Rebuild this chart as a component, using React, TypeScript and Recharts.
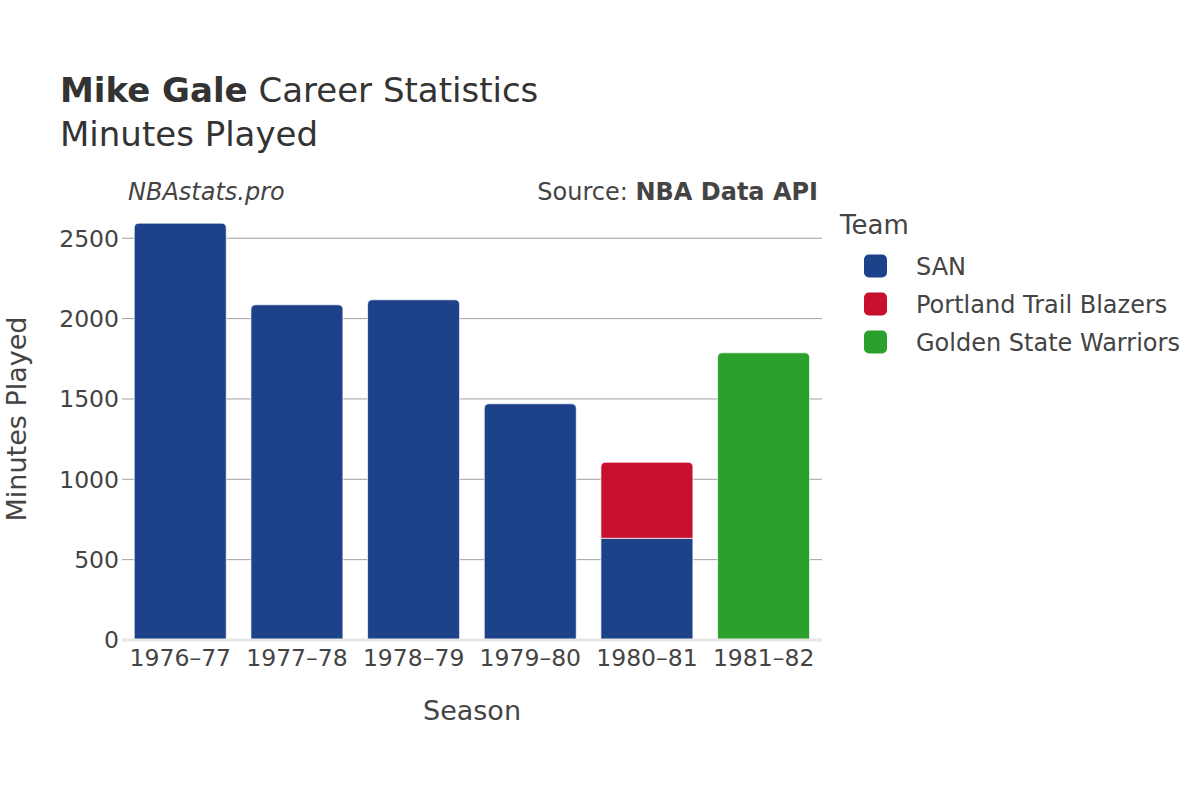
import { BarChart, Bar, XAxis, YAxis, CartesianGrid, ReferenceLine, Legend } from 'recharts';

const FONT = '"DejaVu Sans", Verdana, sans-serif';
const TEXT = '#444';

// values
const seasons = ['1976–77', '1977–78', '1978–79', '1979–80', '1980–81', '1981–82'];
const sanMinutes = [2594, 2086, 2117, 1470, 633, null];
const porMinutes = [null, null, null, null, 473, null];
const gswMinutes = [null, null, null, null, null, 1787];
const yTicks = [0, 500, 1000, 1500, 2000, 2500];
const gridValues = [500, 1000, 1500, 2000, 2500];

const teams = [
  { key: 'san', name: 'SAN', color: '#1d428a' },
  { key: 'por', name: 'Portland Trail Blazers', color: '#c8102e' },
  { key: 'gsw', name: 'Golden State Warriors', color: '#2ca02c' },
];

const rows = seasons.map((season, i) => {
  const row: any = { season, san: sanMinutes[i], por: porMinutes[i], gsw: gswMinutes[i] };
  // topmost segment gets the rounded corners
  row.top = [...teams].reverse().find(t => row[t.key] != null)?.key;
  return row;
});

function makeShape(key: string) {
  return (props: any) => {
    const { x, y, width, height, fill, payload } = props;
    if (!height || height <= 0) return null;
    const r = payload && payload.top === key ? Math.min(5, width / 2, height) : 0;
    const d = `M${x},${y + height} L${x},${y + r} Q${x},${y} ${x + r},${y} L${x + width - r},${y} Q${x + width},${y} ${x + width},${y + r} L${x + width},${y + height} Z`;
    return <path d={d} fill={fill} stroke="rgba(255,255,255,0.7)" strokeWidth={1} />;
  };
}

function TeamLegend({ payload }: any) {
  // keep the team order (recharts hands the stack back reversed)
  const byName: Record<string, string> = {};
  (payload || []).forEach((p: any) => { byName[p.value] = p.color; });
  return (
    <svg width={370} height={170} style={{ fontFamily: FONT }}>
      <text x={10} y={34} fontSize={26} fill={TEXT}>Team</text>
      {teams.map((t, i) => {
        const cy = 66 + i * 38;
        return (
          <g key={t.key}>
            <rect x={34} y={cy - 11.5} width={23} height={23} rx={5} fill={byName[t.name] || t.color} />
            <text x={86} y={cy + 8.5} fontSize={24} fill={TEXT}>{t.name}</text>
          </g>
        );
      })}
    </svg>
  );
}

export default function App() {
  return (
    <div style={{ position: 'absolute', left: 0, top: 0, width: 1200, height: 800, background: '#fff', fontFamily: FONT }}>
      <BarChart
        width={1200}
        height={800}
        data={rows}
        margin={{ top: 200, right: 378, bottom: 100, left: 0 }}
        barCategoryGap="10.5%"
      >
        <CartesianGrid horizontal vertical={false} horizontalValues={gridValues} stroke="#a0a0a0" strokeWidth={1} />
        <XAxis
          dataKey="season"
          height={60}
          axisLine={false}
          tickLine={false}
          tickSize={0}
          tickMargin={9}
          interval={0}
          tick={{ fontSize: 23.5, fill: TEXT, fontFamily: FONT }}
        />
        <YAxis
          width={122}
          domain={[0, 2738]}
          ticks={yTicks}
          interval={0}
          axisLine={false}
          tickLine={false}
          tickSize={0}
          tickMargin={3}
          tick={{ fontSize: 23.5, fill: TEXT, fontFamily: FONT }}
        />
        <Legend
          layout="vertical"
          align="center"
          verticalAlign="middle"
          wrapperStyle={{ left: 830, top: 200, width: 370, height: 170 }}
          content={<TeamLegend />}
        />
        {teams.map(t => (
          <Bar
            key={t.key}
            dataKey={t.key}
            name={t.name}
            stackId="minutes"
            fill={t.color}
            shape={makeShape(t.key)}
            isAnimationActive={false}
          />
        ))}
        <ReferenceLine y={0} stroke="#e6e6e6" strokeWidth={3} />
      </BarChart>

      {/* titles and axis captions */}
      <svg width={1200} height={800} style={{ position: 'absolute', left: 0, top: 0, pointerEvents: 'none', fontFamily: FONT }}>
        <text x={60} y={102} fontSize={34} fill="#333">
          <tspan fontWeight="bold">Mike Gale</tspan> Career Statistics
        </text>
        <text x={60} y={146} fontSize={34} fill="#333">Minutes Played</text>
        <text x={128} y={200} fontSize={24} fontStyle="italic" fill={TEXT}>NBAstats.pro</text>
        <text x={818} y={200} fontSize={24} textAnchor="end" fill={TEXT}>
          Source: <tspan fontWeight="bold">NBA Data API</tspan>
        </text>
        <text x={472} y={720} fontSize={27} textAnchor="middle" fill={TEXT}>Season</text>
        <text x={26} y={419} fontSize={27} textAnchor="middle" fill={TEXT} transform="rotate(-90 26 419)">Minutes Played</text>
      </svg>
    </div>
  );
}
